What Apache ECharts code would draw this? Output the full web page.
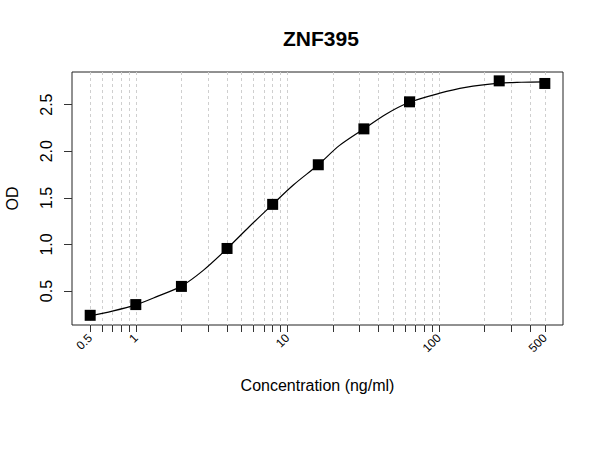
<!DOCTYPE html>
<html>
<head>
<meta charset="utf-8">
<script src="https://cdn.jsdelivr.net/npm/echarts@6/dist/echarts.min.js"></script>
<style>html,body{margin:0;padding:0;background:#fff}#c{width:600px;height:450px}</style>
</head>
<body>
<div id="c"></div>
<script>
var conc = [0.5, 1, 2, 4, 8, 16, 32, 64, 250, 500];
var od = [0.24, 0.355, 0.55, 0.957, 1.43, 1.855, 2.24, 2.53, 2.755, 2.727];
var curveConc = [0.5, 0.7, 1, 1.4, 2, 2.8, 4, 5.6, 8, 11, 16, 22, 32, 45, 64, 100, 150, 250, 350, 500];
var curveOD = [0.235, 0.285, 0.352, 0.446, 0.553, 0.725, 0.955, 1.19, 1.43, 1.64, 1.855, 2.06, 2.24, 2.40, 2.525, 2.62, 2.685, 2.73, 2.74, 2.745];
var xTicks = [0.5, 0.6, 0.7, 0.8, 0.9, 1, 2, 3, 4, 5, 6, 7, 8, 9, 10, 20, 30, 40, 50, 60, 70, 80, 90, 100, 200, 300, 400, 500];
var xLabels = [0.5, 1, 10, 100, 500];
var yTicks = [0.5, 1, 1.5, 2, 2.5];

var chart = echarts.init(document.getElementById('c'), null, {renderer: 'svg'});
chart.setOption({
  backgroundColor: '#fff',
  animation: false,
  title: {
    text: 'ZNF395',
    left: 278, top: 23,
    textStyle: {fontFamily: 'Liberation Sans, Arial', fontSize: 21, fontWeight: 'bold', color: '#000'}
  },
  grid: {left: 72, right: 37, top: 72, bottom: 125, outerBoundsMode: 'none', containLabel: false,
    show: true, borderColor: '#222', borderWidth: 1, backgroundColor: 'transparent'},
  xAxis: {
    type: 'log', logBase: 10, min: 0.3793, max: 659,
    name: 'Concentration (ng/ml)', nameLocation: 'middle', nameGap: 52,
    nameTextStyle: {fontFamily: 'Liberation Sans, Arial', fontSize: 16, color: '#000'},
    axisLine: {show: false},
    axisTick: {show: true, length: 7, customValues: xTicks, lineStyle: {color: '#333'}},
    axisLabel: {customValues: xLabels, rotate: 45, margin: 11, fontFamily: 'Liberation Sans, Arial', fontSize: 12, color: '#000',
      formatter: function (v) { return String(+Number(v).toPrecision(6)); }},
    splitLine: {show: true, lineStyle: {color: '#cfcfcf', type: [3, 3], width: 1}},
    minorTick: {show: false}
  },
  yAxis: {
    type: 'value', min: 0.136, max: 2.85,
    name: 'OD', nameLocation: 'middle', nameGap: 52,
    nameTextStyle: {fontFamily: 'Liberation Sans, Arial', fontSize: 16, color: '#000'},
    axisLine: {show: false},
    axisTick: {show: true, length: 8, customValues: yTicks, lineStyle: {color: '#333'}},
    axisLabel: {customValues: yTicks, rotate: 90, margin: 18, fontFamily: 'Liberation Sans, Arial', fontSize: 16, color: '#000',
      formatter: function (v) { return Number(v).toFixed(1); }},
    splitLine: {show: false}
  },
  series: [
    {
      type: 'line', smooth: 0.3, showSymbol: false, silent: true,
      lineStyle: {color: '#000', width: 1.2},
      data: curveConc.map(function (c, i) { return [c, curveOD[i]]; })
    },
    {
      type: 'scatter', symbol: 'rect', symbolSize: 11,
      itemStyle: {color: '#000', opacity: 1},
      data: conc.map(function (c, i) { return [c, od[i]]; })
    }
  ]
});
</script>
</body>
</html>
